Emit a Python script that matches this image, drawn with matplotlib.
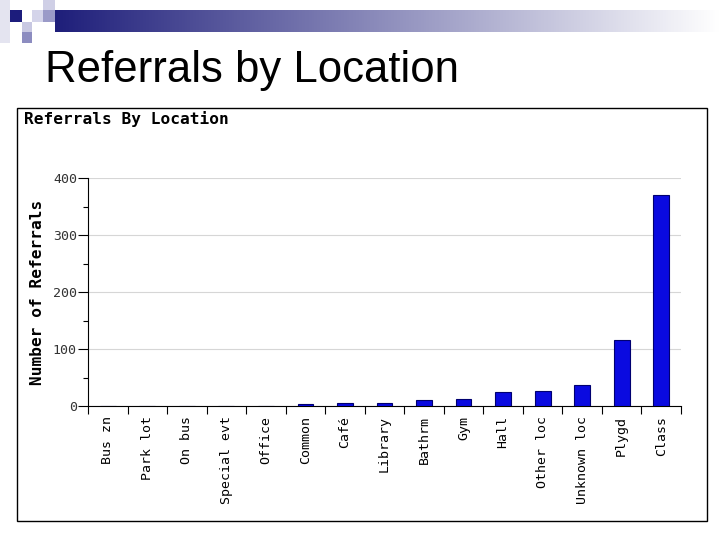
import numpy as np
import matplotlib.pyplot as plt
from matplotlib.patches import Rectangle

# data
locations = ["Bus zn", "Park lot", "On bus", "Special evt", "Office", "Common",
             "Café", "Library", "Bathrm", "Gym", "Hall", "Other loc",
             "Unknown loc", "Plygd", "Class"]
referrals = [0, 0, 0, 0, 0, 3, 5, 5, 10, 12, 24, 26, 37, 115, 370]
y_ticks = [0, 100, 200, 300, 400]

W, H = 720, 540
fig = plt.figure(figsize=(7.2, 5.4), dpi=100)
fig.patch.set_facecolor("white")


def px(x0, y0, x1, y1):
    # pixel box (top-left origin) -> figure fraction rect
    return (x0 / W, 1 - y1 / H, (x1 - x0) / W, (y1 - y0) / H)


# slide header decoration
squares = [
    ((0, 0, 10, 43), "#e4e4f0"),
    ((10, 10, 22, 22), "#1c1c7c"),
    ((32, 10, 43, 22), "#d4d4ea"),
    ((43, 0, 55, 10), "#cfcfe6"),
    ((43, 10, 55, 22), "#9a9ac8"),
    ((22, 22, 32, 32), "#c8c8e2"),
    ((22, 32, 32, 43), "#8c8cc0"),
]
for (x0, y0, x1, y1), c in squares:
    r = px(x0, y0, x1, y1)
    fig.patches.append(Rectangle((r[0], r[1]), r[2], r[3], transform=fig.transFigure,
                                 facecolor=c, edgecolor="none", zorder=-1))

grad_ax = fig.add_axes(px(55, 10, 720, 32))
grad = np.linspace(0, 1, 256)[None, :]
navy = np.array([0.12, 0.12, 0.48])
img = navy[None, None, :] * (1 - grad[..., None]) + np.ones(3)[None, None, :] * grad[..., None]
grad_ax.imshow(img, aspect="auto", extent=(0, 1, 0, 1))
grad_ax.axis("off")

fig.text(45 / W, 1 - 82 / H, "Referrals by Location", fontsize=31.5,
         family="Liberation Sans", va="baseline", ha="left")

# chart frame
r = px(17, 108, 707, 521)
fig.patches.append(Rectangle((r[0], r[1]), r[2], r[3], transform=fig.transFigure,
                             facecolor="white", edgecolor="black", linewidth=1,
                             zorder=-1))

mono = "DejaVu Sans Mono"
fig.text(24 / W, 1 - 119 / H, "Referrals By Location", fontsize=11.6, family=mono,
         fontweight="bold", va="center", ha="left")

ax = fig.add_axes(px(88, 178, 681, 406))
ax.patch.set_alpha(0)
x = np.arange(len(locations))
ax.bar(x, referrals, width=0.4, color="#0a0ae0", edgecolor="#000070", linewidth=0.8,
       zorder=3)
ax.set_xlim(-0.5, len(locations) - 0.5)
ax.set_ylim(0, 400)

ax.set_yticks(y_ticks)
ax.set_yticklabels([str(v) for v in y_ticks], family=mono, fontsize=9.5, color="#333333")
ax.set_yticks(np.arange(50, 400, 100), minor=True)
ax.tick_params(axis="y", which="major", length=7, width=0.8, direction="out", pad=1)
ax.tick_params(axis="y", which="minor", length=3.5, width=0.8, direction="out")
ax.yaxis.grid(True, color="#d6d6d6", linewidth=0.8, zorder=0)

ax.set_xticks(np.arange(-0.5, len(locations)), minor=False)
ax.set_xticklabels([])
ax.set_xticks(x, minor=True)
ax.set_xticklabels(locations, minor=True, rotation=90, family=mono, fontsize=9.5,
                   va="top", ha="center")
ax.tick_params(axis="x", which="major", length=6, width=0.8, direction="out")
ax.tick_params(axis="x", which="minor", length=0, pad=7)

for s in ["top", "right"]:
    ax.spines[s].set_visible(False)
for s in ["left", "bottom"]:
    ax.spines[s].set_linewidth(0.8)

ax.set_ylabel("Number of Referrals", family=mono, fontsize=11.6, fontweight="bold")
ax.yaxis.set_label_coords(-0.072, 0.5)

fig.savefig("out.png", dpi=100)
